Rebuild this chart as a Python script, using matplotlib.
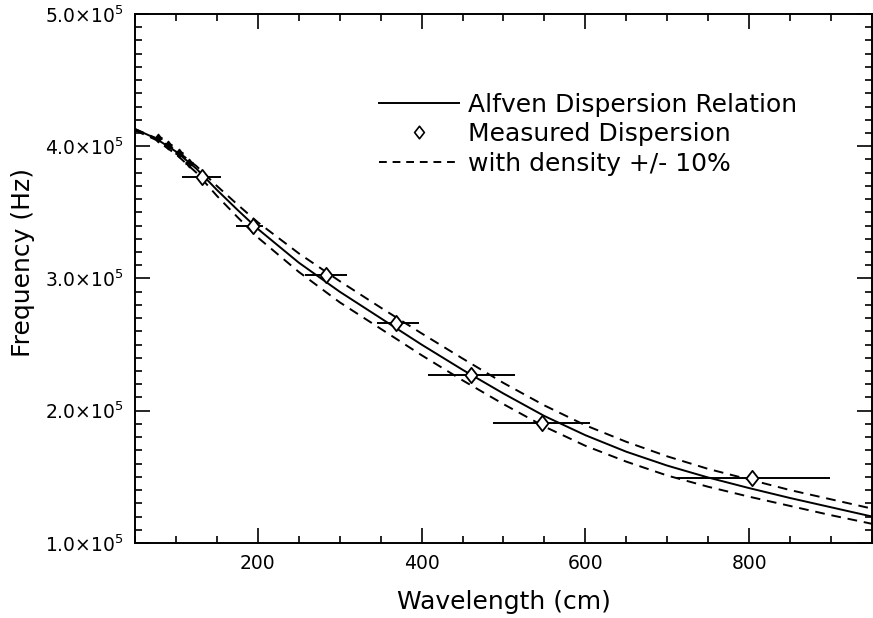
import matplotlib.pyplot as plt
from matplotlib.lines import Line2D
from matplotlib.path import Path
from matplotlib.ticker import MultipleLocator, FixedLocator

# Theory curves (frequency in Hz vs wavelength in cm)
wavelength = [50, 75, 100, 125, 150, 175, 200, 250, 300, 350, 400, 450, 500,
              550, 600, 650, 700, 750, 800, 850, 900, 950]
alfven = [4.13e5, 4.06e5, 3.96e5, 3.83e5, 3.67e5, 3.52e5, 3.375e5, 3.12e5, 2.90e5,
          2.70e5, 2.50e5, 2.31e5, 2.13e5, 1.96e5, 1.815e5, 1.69e5, 1.585e5, 1.495e5,
          1.415e5, 1.34e5, 1.27e5, 1.20e5]
density_low = [4.13e5, 4.063e5, 3.97e5, 3.85e5, 3.70e5, 3.56e5, 3.425e5, 3.19e5, 2.98e5,
               2.78e5, 2.585e5, 2.395e5, 2.21e5, 2.04e5, 1.89e5, 1.765e5, 1.655e5, 1.56e5,
               1.48e5, 1.40e5, 1.33e5, 1.26e5]
density_high = [4.12e5, 4.05e5, 3.94e5, 3.80e5, 3.625e5, 3.465e5, 3.31e5, 3.05e5, 2.82e5,
                2.62e5, 2.42e5, 2.23e5, 2.05e5, 1.88e5, 1.735e5, 1.615e5, 1.51e5, 1.425e5,
                1.35e5, 1.28e5, 1.21e5, 1.145e5]

# Measured points with wavelength uncertainty (lower, upper bound)
meas_wl = [132, 194, 283, 369, 460, 547, 804]
meas_freq = [3.77e5, 3.40e5, 3.03e5, 2.66e5, 2.27e5, 1.905e5, 1.49e5]
meas_lo = [108, 173, 258, 346, 408, 487, 712]
meas_hi = [155, 206, 309, 397, 514, 606, 899]

# Short-wavelength points, error bars barely wider than the marker
short_wl = [78, 90, 104, 116]
short_freq = [4.06e5, 4.01e5, 3.95e5, 3.87e5]
short_err = [5, 5, 5, 5]

xticks = [200, 400, 600, 800]
yticks = [1e5, 2e5, 3e5, 4e5, 5e5]
ytick_labels = [r"1.0$\times$10$^5$", r"2.0$\times$10$^5$", r"3.0$\times$10$^5$",
                r"4.0$\times$10$^5$", r"5.0$\times$10$^5$"]

plt.rcParams["font.family"] = "DejaVu Sans"
plt.rcParams["mathtext.default"] = "regular"

# open diamond, a bit narrower than tall
diamond = Path([(0, 1), (0.78, 0), (0, -1), (-0.78, 0), (0, 1)],
               [Path.MOVETO, Path.LINETO, Path.LINETO, Path.LINETO, Path.CLOSEPOLY])

fig = plt.figure(figsize=(8.73, 6.18), dpi=100)
ax = fig.add_axes([0.1546, 0.1214, 0.8442, 0.856])

ax.plot(wavelength, alfven, color="black", lw=1.4)
ax.plot(wavelength, density_low, color="black", lw=1.4, dashes=(5, 3.5))
ax.plot(wavelength, density_high, color="black", lw=1.4, dashes=(5, 3.5))

xerr = [[w - lo for w, lo in zip(meas_wl, meas_lo)],
        [hi - w for w, hi in zip(meas_wl, meas_hi)]]
ax.errorbar(meas_wl, meas_freq, xerr=xerr, fmt="none", ecolor="black",
            elinewidth=1.4, capsize=0)
ax.plot(meas_wl, meas_freq, ls="none", marker=diamond, ms=11, mfc="white",
        mec="black", mew=1.3)
ax.errorbar(short_wl, short_freq, xerr=short_err, fmt="none", ecolor="black",
            elinewidth=2.2, capsize=0)
ax.plot(short_wl, short_freq, ls="none", marker=diamond, ms=6, mfc="black",
        mec="black", mew=1.0)

ax.set_xlim(50, 950)
ax.set_ylim(1e5, 5e5)
ax.xaxis.set_major_locator(FixedLocator(xticks))
ax.xaxis.set_minor_locator(MultipleLocator(50))
ax.yaxis.set_major_locator(FixedLocator(yticks))
ax.yaxis.set_minor_locator(MultipleLocator(1e4))
ax.set_yticklabels(ytick_labels)
ax.tick_params(which="both", direction="in", top=True, right=True,
               labelsize=13.5, width=1.2)
ax.tick_params(which="major", length=11, pad=8)
ax.tick_params(which="minor", length=5)
for s in ax.spines.values():
    s.set_linewidth(1.4)

ax.set_xlabel("Wavelength (cm)", fontsize=18, labelpad=12)
ax.set_ylabel("Frequency (Hz)", fontsize=18)
ax.yaxis.set_label_coords(-0.135, 0.531)

handles = [
    Line2D([], [], color="black", lw=1.4),
    Line2D([], [], ls="none", marker=diamond, ms=9, mfc="white", mec="black", mew=1.2),
    Line2D([], [], color="black", lw=1.4, dashes=(4, 3)),
]
labels = ["Alfven Dispersion Relation", "Measured Dispersion", "with density +/- 10%"]
ax.legend(handles, labels, loc="upper left", bbox_to_anchor=(0.300, 0.894),
          frameon=False, fontsize=18, handlelength=3.2, handletextpad=0.36,
          labelspacing=0.22)

fig.savefig("out.png", dpi=100)
